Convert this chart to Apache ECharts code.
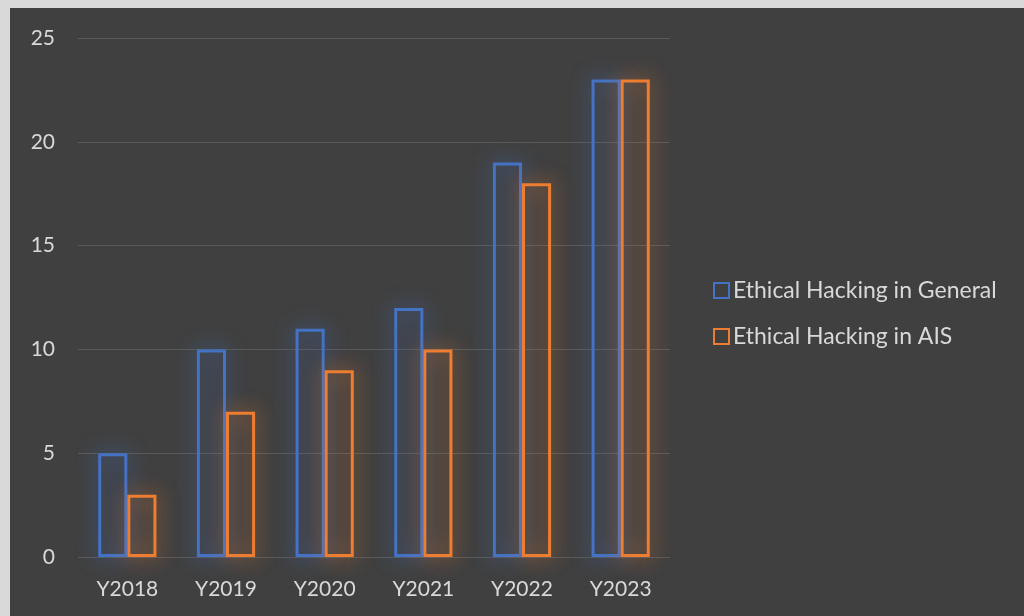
<!DOCTYPE html>
<html><head><meta charset="utf-8">
<script src="https://cdn.jsdelivr.net/npm/echarts@6/dist/echarts.min.js"></script>
<style>
html,body{margin:0;padding:0;background:#d9d9d9;}
#c{position:absolute;left:10px;top:8px;width:1014px;height:608px;background:#404040;}
</style></head><body>
<div id="c"></div>
<script>
var categories = ['Y2018','Y2019','Y2020','Y2021','Y2022','Y2023'];
var generalValues = [5, 10, 11, 12, 19, 23];
var aisValues = [3, 7, 9, 10, 18, 23];
var seriesNames = ['Ethical Hacking in General', 'Ethical Hacking in AIS'];
var FONT = 'Lato, "Open Sans", sans-serif';
var chart = echarts.init(document.getElementById('c'), null, {renderer:'canvas'});
function bar(name, data, color){
  return {
    name: name, type: 'bar', data: data,
    barGap: '0%', barCategoryGap: '41%',
    itemStyle: {color: 'rgba(0,0,0,0)', borderColor: color, borderWidth: 3,
      shadowBlur: 20, shadowColor: color},
    emphasis: {disabled: true}
  };
}
chart.setOption({
  backgroundColor: '#404040',
  animation: false,
  grid: {left: 68, right: 354, top: 30, bottom: 59, containLabel: false},
  legend: {
    orient: 'vertical', left: 698, top: 266, itemGap: 23,
    itemWidth: 15, itemHeight: 15, icon: 'rect',
    textStyle: {color: '#d9d9d9', fontSize: 23, fontFamily: FONT, padding: [0,0,0,-1]},
    data: [
      {name: seriesNames[0], itemStyle: {color: 'rgba(0,0,0,0)', borderColor: '#4472C4', borderWidth: 2}},
      {name: seriesNames[1], itemStyle: {color: 'rgba(0,0,0,0)', borderColor: '#ED7D31', borderWidth: 2}}
    ]
  },
  xAxis: {
    type: 'category', data: categories,
    axisLine: {show: true, lineStyle: {color: '#595959'}},
    axisTick: {show: false},
    axisLabel: {color: '#d9d9d9', fontSize: 21, fontFamily: FONT, margin: 22}
  },
  yAxis: {
    type: 'value', min: 0, max: 25, interval: 5,
    axisLine: {show: false}, axisTick: {show: false},
    splitLine: {lineStyle: {color: '#595959', width: 1}},
    axisLabel: {color: '#d9d9d9', fontSize: 21, fontFamily: FONT, margin: 23}
  },
  series: [bar(seriesNames[0], generalValues, '#4472C4'), bar(seriesNames[1], aisValues, '#ED7D31')]
});
</script></body></html>
